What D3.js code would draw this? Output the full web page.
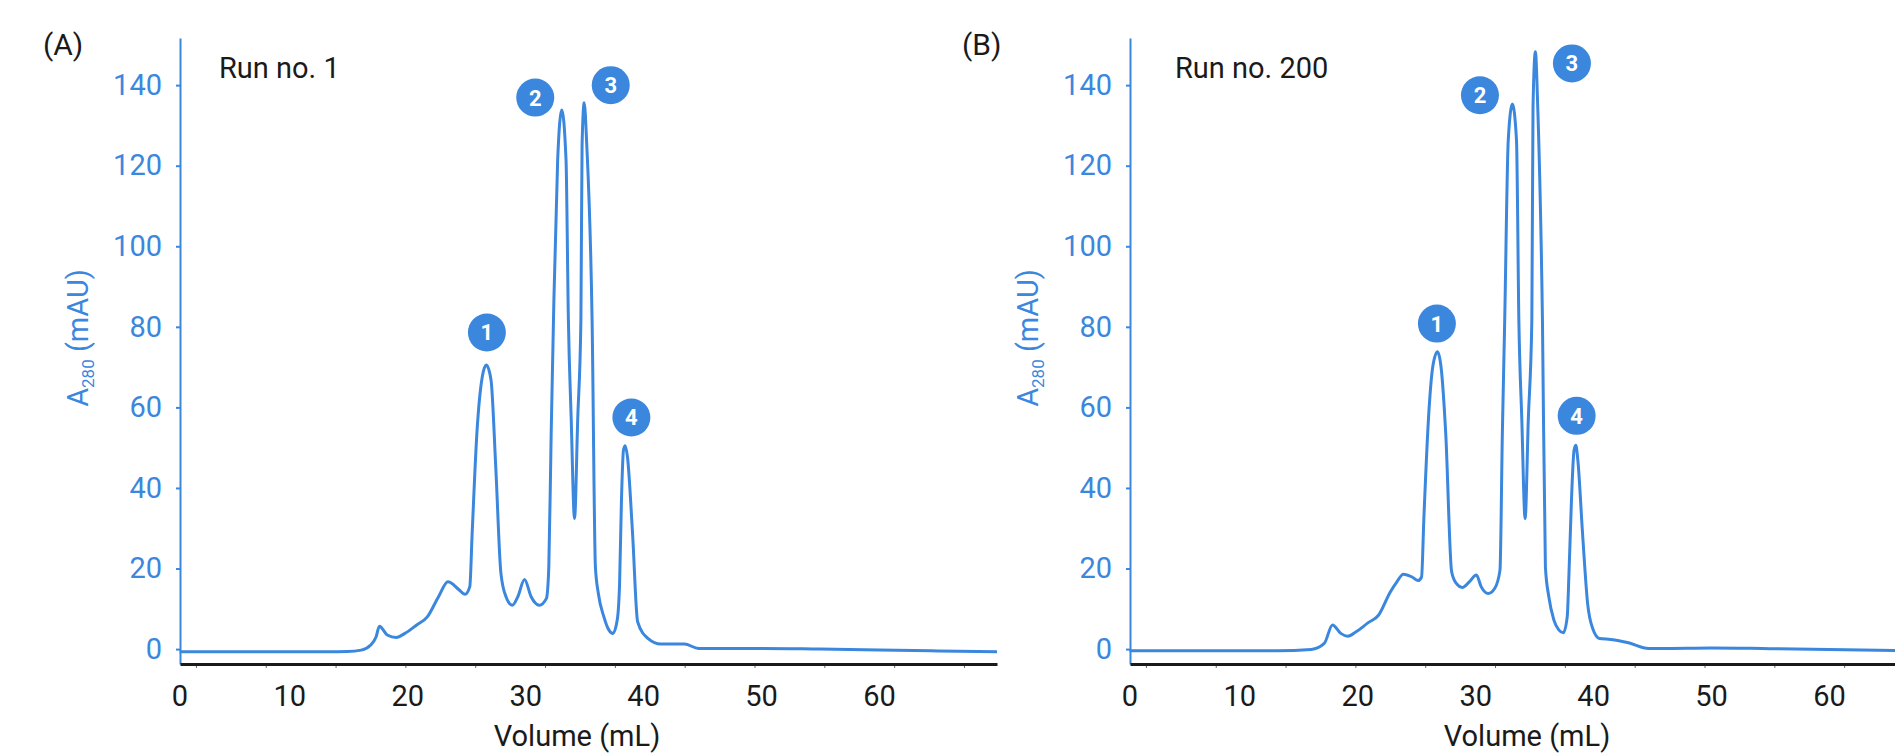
<!DOCTYPE html>
<html><head><meta charset="utf-8">
<script src="https://cdn.jsdelivr.net/npm/d3@7"></script>
<style>body{margin:0;background:#fff} text{font-family:Roboto,sans-serif}</style>
</head><body><svg id="c" width="1895" height="753"></svg>
<script>
// ---- data ----
const volA = [0.7,5,10,13.2,14.9,16.1,16.9,17.35,17.64,18.3,19.07,19.8,20.8,21.7,22.65,23.45,24.36,24.9,25.3,25.5,25.9,26.36,26.7,27.1,27.5,27.94,28.37,28.9,29.37,29.94,30.5,31.2,31.8,32.0,32.2,32.43,32.75,33.1,33.46,33.66,33.9,34.18,34.45,34.72,34.82,35.0,35.22,35.67,35.95,36.2,36.67,37.1,37.44,37.8,38.0,38.16,38.33,38.47,38.67,39.1,39.53,40.4,41.5,43.5,44.7,45.8,50,55,60,65,70];
const absA = [-0.65,-0.65,-0.65,-0.65,-0.6,-0.25,1.0,3.0,5.7,3.5,2.9,3.9,6.0,8.0,13.0,16.7,14.8,13.6,15.5,28.7,53.5,67.6,70.5,66.8,45.3,18.8,13.0,10.9,13.0,17.3,13.0,10.9,12.6,20.4,53.5,86.6,121.4,133.8,121.4,81.6,57,32.4,57,81.6,125,135.6,125,81.6,20.4,13.8,8.0,4.7,3.9,7.2,16.3,37,49.4,50.5,47.7,28.7,6.8,2.65,1.24,1.24,0.17,0.17,0.17,0,-0.2,-0.45,-0.67];
const volB = [0.7,5,10,13.2,16.1,17.2,17.9,18.6,19.2,19.9,20.9,21.8,22.8,23.36,23.9,24.65,25.16,25.45,25.65,26.08,26.4,26.8,27.1,27.5,28.0,28.4,28.9,29.5,30.1,30.5,31.1,31.66,32.1,32.3,32.5,32.8,33.15,33.5,33.7,33.95,34.23,34.5,34.8,34.9,35.1,35.3,35.7,35.95,36.24,36.67,37.1,37.47,37.8,37.95,38.16,38.38,38.53,38.7,39.1,39.53,39.96,40.53,41.5,43.0,44.7,45.8,50,55,60,66.4,70];
const absB = [-0.4,-0.4,-0.4,-0.4,-0.1,1.4,6.0,3.9,3.2,4.3,6.5,8.4,14.2,16.7,18.6,17.9,17.0,17.9,32.8,59.3,70.1,73.8,70.1,53.5,19.2,16.3,15.3,16.7,18.4,15.5,13.8,15.1,19.6,53.5,81.6,126.3,135.3,126.3,81.6,57,32.4,57,81.6,134.6,148.3,134.6,81.6,20.4,13.0,7.2,4.7,4.05,8.0,18.8,37,49.4,50.6,46.9,28.7,11.3,5.1,2.65,2.4,1.57,0.17,0.17,0.3,0.1,-0.1,-0.4,-0.5];
const peakNums = [1,2,3,4];
const peakVolA = [26.75,30.85,37.25,39.0];
const peakAbsA = [78.6,136.9,140.0,57.5];
const peakVolB = [26.75,30.4,38.2,38.6];
const peakAbsB = [80.8,137.5,145.4,57.9];
const xTickLabels = [0,10,20,30,40,50,60];
const xMinorTicks = [2.08,8.0,13.92,19.84,25.76,31.68,37.6,43.52,49.44,55.36,61.28,67.2];
const yTickLabels = [0,20,40,60,80,100,120,140];
const panelLabels = ["(A)","(B)"];
const runLabels = ["Run no. 1","Run no. 200"];

// ---- drawing ----
const BLUE = "#3b87dd";
const svg = d3.select("#c");

function panel(i, vols, abs, pv, pa) {
  const off = i * 950;
  const x = d3.scaleLinear().domain([0.73, 70]).range([180 + off, 997 + off]);
  const y = d3.scaleLinear().domain([-3.7, 151.7]).range([664, 38]);
  const g = svg.append("g");

  // y axis
  const ya = g.append("g").attr("transform", `translate(${180 + off},0)`)
    .call(d3.axisLeft(y).tickValues(yTickLabels).tickSize(4).tickSizeOuter(0).tickPadding(14));
  ya.select(".domain").attr("stroke", BLUE).attr("stroke-width", 2);
  ya.selectAll(".tick line").attr("stroke", BLUE).attr("stroke-width", 2);
  ya.selectAll(".tick text").attr("fill", BLUE).style("font-size", "29px").attr("font-family", "Roboto");

  // x axis minor ticks
  const xm = g.append("g").attr("transform", "translate(0,664)")
    .call(d3.axisBottom(x).tickValues(xMinorTicks).tickSize(4).tickSizeOuter(0).tickFormat(""));
  xm.select(".domain").remove();
  xm.selectAll(".tick line").attr("stroke", "#666").attr("stroke-width", 1);

  // x axis labels + line
  const xa = g.append("g").attr("transform", "translate(0,664)")
    .call(d3.axisBottom(x).tickValues(xTickLabels).tickSize(0).tickSizeOuter(0).tickPadding(21));
  xa.select(".domain").attr("stroke", "#1a1a1a").attr("stroke-width", 3);
  xa.selectAll(".tick text").attr("fill", "#1a1a1a").style("font-size", "29px").attr("font-family", "Roboto");
  xa.selectAll(".tick").filter(d => d === 0).attr("transform", `translate(${180 + off},0)`);

  // curve
  const line = d3.line().x(d => x(d[0])).y(d => y(d[1])).curve(d3.curveMonotoneX);
  g.append("path").datum(vols.map((v, k) => [v, abs[k]]))
    .attr("d", line).attr("fill", "none").attr("stroke", BLUE)
    .attr("stroke-width", 3).attr("stroke-linejoin", "round");

  // peak markers
  const pk = g.selectAll(".pk").data(peakNums).enter().append("g")
    .attr("transform", (d, k) => `translate(${x(pv[k])},${y(pa[k])})`);
  pk.append("circle").attr("r", 19).attr("fill", BLUE);
  pk.append("text").text(d => d).attr("text-anchor", "middle").attr("dy", "0.36em")
    .attr("fill", "#fff").style("font-size", "22px").style("font-weight", "bold");

  // titles
  g.append("text").attr("x", [43, 962][i]).attr("y", 55).text(panelLabels[i])
    .style("font-size", "30px").attr("fill", "#1a1a1a");
  g.append("text").attr("x", [219, 1175][i]).attr("y", 78).text(runLabels[i])
    .style("font-size", "29px").attr("fill", "#1a1a1a");
  g.append("text").attr("x", 577 + off).attr("y", 746).attr("text-anchor", "middle")
    .text("Volume (mL)").style("font-size", "29px").attr("fill", "#1a1a1a");

  const yt = g.append("text").attr("transform", `translate(${88 + off},338) rotate(-90)`)
    .attr("text-anchor", "middle").attr("fill", BLUE).style("font-size", "29px");
  yt.append("tspan").text("A");
  yt.append("tspan").text("280").style("font-size", "17px").attr("dy", 6);
  yt.append("tspan").text(" (mAU)").attr("dy", -6);
}

panel(0, volA, absA, peakVolA, peakAbsA);
panel(1, volB, absB, peakVolB, peakAbsB);
</script></body></html>
